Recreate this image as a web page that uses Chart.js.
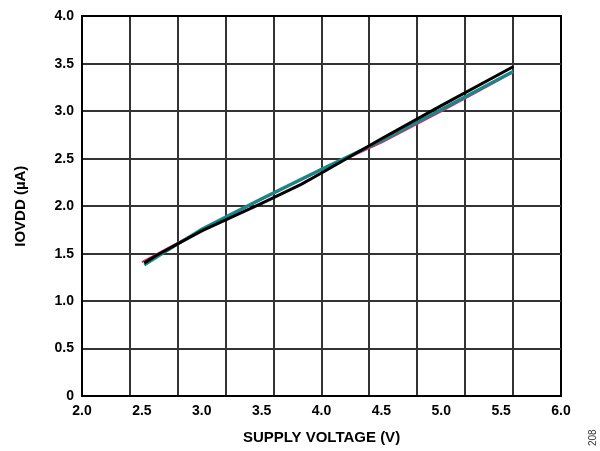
<!DOCTYPE html>
<html>
<head>
<meta charset="utf-8">
<script src="https://cdn.jsdelivr.net/npm/chart.js@4.4.1/dist/chart.umd.min.js"></script>
<style>
  html, body { margin: 0; padding: 0; background: #fff; }
  #wrap { position: relative; width: 600px; height: 451px; }
  #fig { position: absolute; left: 587px; top: 446px; font: 10px "Liberation Sans", Arial, sans-serif; color: #333; transform: rotate(-90deg); transform-origin: left top; }
</style>
</head>
<body>
<div id="wrap">
  <canvas id="chart" width="600" height="451"></canvas>
  <span id="fig">208</span>
</div>
<script>
// supply voltage (V) and IOVDD current (uA)
var pinkX  = [2.5, 3.0, 3.5, 4.0, 4.5, 5.0, 5.6];
var pinkY  = [1.41, 1.75, 2.07, 2.38, 2.67, 3.00, 3.41];
var tealX  = [2.52, 3.0, 3.5, 4.0, 4.5, 5.0, 5.6];
var tealY  = [1.38, 1.76, 2.08, 2.39, 2.69, 3.02, 3.42];
var blackX = [2.52, 2.62, 3.0, 3.5, 3.83, 4.0, 4.5, 5.0, 5.6];
var blackY = [1.40, 1.48, 1.74, 2.03, 2.23, 2.35, 2.71, 3.06, 3.47];

var xMin = 2.0, xMax = 6.0, xLabelStep = 0.5, xGridStep = 0.4;
var yMin = 0, yMax = 4.0, yStep = 0.5;

function pts(xs, ys) {
    return xs.map(function(x, i) { return {x: x, y: ys[i]}; });
}

var tickFont = {family: '"Liberation Sans", Arial, sans-serif', size: 14, weight: 'bold'};
var titleFont = {family: '"Liberation Sans", Arial, sans-serif', size: 15, weight: 'bold'};

var ctx = document.getElementById('chart').getContext('2d');
new Chart(ctx, {
    type: 'line',
    data: {
        datasets: [
            {data: pts(blackX, blackY), borderColor: '#000000', borderWidth: 3},
            {data: pts(tealX, tealY), borderColor: '#108a8a', borderWidth: 3},
            {data: pts(pinkX, pinkY), borderColor: '#c8336b', borderWidth: 2}
        ]
    },
    options: {
        responsive: false,
        animation: false,
        elements: {point: {radius: 0}, line: {tension: 0}},
        layout: {padding: {top: 12, right: 39, left: 0, bottom: 0}},
        plugins: {legend: {display: false}, tooltip: {enabled: false}},
        scales: {
            x: {
                type: 'linear', position: 'bottom', min: xMin, max: xMax,
                grid: {display: false, drawTicks: false},
                border: {display: true, color: '#000', width: 2},
                ticks: {stepSize: xLabelStep, padding: 7, color: '#000', font: tickFont,
                        callback: function(v) { return v.toFixed(1); }},
                title: {display: true, text: 'SUPPLY VOLTAGE (V)', color: '#000', font: titleFont,
                        padding: {top: 0, bottom: 4}},
                afterFit: function(axis) { axis.height = 55; }
            },
            xg: {
                type: 'linear', position: 'top', min: xMin, max: xMax,
                ticks: {display: false, stepSize: xGridStep},
                grid: {drawTicks: false, lineWidth: 2,
                       color: function(c) { return c.tick && Math.abs(c.tick.value - xMax) < 1e-6 ? '#000' : '#333'; }},
                border: {display: true, color: '#000', width: 2},
                afterFit: function(axis) { axis.height = 0; }
            },
            y: {
                min: yMin, max: yMax,
                grid: {drawTicks: false, lineWidth: 2, color: '#333'},
                border: {display: true, color: '#000', width: 2},
                ticks: {stepSize: yStep, padding: 8, color: '#000', font: tickFont,
                        callback: function(v) { return v === 0 ? '0' : v.toFixed(1); }},
                title: {display: true, text: 'IOVDD (µA)', color: '#000', font: titleFont,
                        padding: {top: 12, bottom: 0}},
                afterFit: function(axis) { axis.width = 82; }
            }
        }
    }
});
</script>
</body>
</html>
